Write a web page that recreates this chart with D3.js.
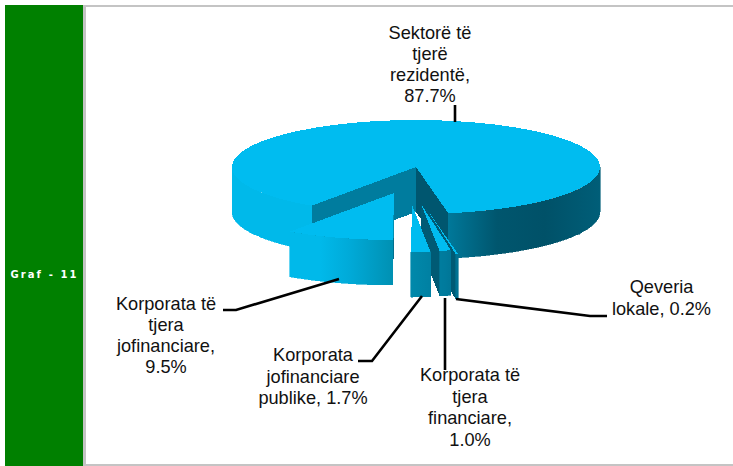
<!DOCTYPE html>
<html>
<head>
<meta charset="utf-8">
<script src="https://cdn.jsdelivr.net/npm/d3@7/dist/d3.min.js"></script>
<style>
html,body{margin:0;padding:0;background:#fff;overflow:hidden}
svg{display:block}
text{font-family:"Liberation Sans",Arial,sans-serif;font-size:18.2px;fill:#111}
</style>
</head>
<body>
<svg id="c" width="733" height="466"></svg>
<script>
const categories = ["Sektorë të tjerë rezidentë","Qeveria lokale","Korporata të tjera financiare","Korporata jofinanciare publike","Korporata të tjera jofinanciare"];
const shares = [87.7,0.2,1.0,1.7,9.5];
const labelLines = [
  ["Sektorë të","tjerë","rezidentë,","87.7%"],
  ["Qeveria","lokale, 0.2%"],
  ["Korporata të","tjera","financiare,","1.0%"],
  ["Korporata","jofinanciare","publike, 1.7%"],
  ["Korporata të","tjera","jofinanciare,","9.5%"]
];
const panelTitle = "Graf - 11";

// layout
const W=733,H=466,cx=416,cy=167,rx=184,ry=47,depth=45;
const offsets=[[0,0],[10,41],[5,37],[-4,38],[-22,26]];
const labelPos=[[430,32.5,21.2],[661.5,287,22],[470,375,21.4],[313,355,21.5],[166,304,21]];
const leaders=[
  [[455,105],[455,122]],
  [[456,299],[590,316],[607,316]],
  [[445,298],[445,370]],
  [[422,296],[372,361],[358,361]],
  [[339,279],[236,310],[223,310]]
];

const svg=d3.select("#c");
const defs=svg.append("defs");
const grad=defs.append("linearGradient").attr("id","wall").attr("gradientUnits","userSpaceOnUse")
  .attr("x1",cx-rx).attr("x2",cx+rx).attr("y1",0).attr("y2",0);
[[0,"#00b9ea"],[0.24,"#00b9ea"],[0.32,"#00aad8"],[0.44,"#0090b2"],[0.58,"#007a9c"],[0.72,"#00566e"],[0.85,"#005168"],[1,"#005e78"]]
  .forEach(s=>grad.append("stop").attr("offset",s[0]).attr("stop-color",s[1]));

// frame
svg.append("rect").attr("x",5).attr("y",5).attr("width",78).attr("height",461).attr("fill","#008000");
svg.append("rect").attr("x",83).attr("y",5).attr("width",3).attr("height",461).attr("fill","#c4c4c4");
svg.append("rect").attr("x",83).attr("y",5).attr("width",650).attr("height",2).attr("fill","#c4c4c4");
svg.append("rect").attr("x",83).attr("y",464).attr("width",650).attr("height",2).attr("fill","#c4c4c4");
svg.append("text").attr("x",44.5).attr("y",278).attr("text-anchor","middle")
  .style("font-family","'DejaVu Sans',Verdana,sans-serif").style("font-size","10px").style("font-weight","bold")
  .style("letter-spacing","2.1px").style("fill","#fff").text(panelTitle);

// pie
const deg=Math.PI/180;
const pie=d3.pie().sort(null).value(d=>d).startAngle(-145.5*deg).endAngle(214.5*deg);
const arcs=pie(shares);
const arcGen=d3.arc().innerRadius(0).outerRadius(rx);
const px=(a,o)=>cx+o[0]+rx*Math.sin(a);
const py=(a,o)=>cy+o[1]-ry*Math.cos(a);
const area=d3.area().x(d=>d.x).y0(d=>d.y).y1(d=>d.y+depth);

function outerWall(g,a0,a1,o){
  const lo=Math.max(a0,Math.PI/2),hi=Math.min(a1,1.5*Math.PI);
  if(hi<=lo)return;
  const pts=d3.range(0,61).map(i=>{const a=lo+(hi-lo)*i/60;return{x:px(a,o),y:py(a,o)}});
  g.append("path").attr("d",area(pts)).attr("fill","url(#wall)").attr("stroke","url(#wall)").attr("stroke-width",0.6);
}
function radialWall(g,a,o,fill){
  const pts=[{x:cx+o[0],y:cy+o[1]},{x:px(a,o),y:py(a,o)}];
  g.append("path").attr("d",area(pts)).attr("fill",fill);
}
const pieG=svg.append("g").attr("shape-rendering","crispEdges");
// paint back to front: large slice, then right-most small slice to the left
[0,1,2,3,4].forEach(i=>{
  const d=arcs[i],o=offsets[i],g=pieG.append("g");
  let a0=d.startAngle,a1=d.endAngle;
  if(i===0){
    radialWall(g,a0+2*Math.PI,o,"#007c9e");
    radialWall(g,a1,o,"#00566f");
    outerWall(g,a0+2*Math.PI,1.5*Math.PI,o);
    outerWall(g,Math.PI/2,a1,o);
  }else{
    radialWall(g,a0,o,"#00708f");
    radialWall(g,a1,o,i===4?"#0090b4":"#005a74");
    outerWall(g,a0,a1,o);
  }
  g.append("path").attr("d",arcGen(d))
    .attr("transform",`translate(${cx+o[0]},${cy+o[1]}) scale(1,${ry/rx})`)
    .attr("fill","#00bcf0");
});

// leader lines
const line=d3.line();
svg.append("g").selectAll("path").data(leaders).join("path")
  .attr("d",d=>line(d)).attr("fill","none").attr("stroke","#000").attr("stroke-width",2.6);

// labels
const lab=svg.append("g").selectAll("text").data(labelLines).join("text")
  .attr("text-anchor","middle");
lab.each(function(lines,i){
  const p=labelPos[i];
  d3.select(this).selectAll("tspan").data(lines).join("tspan")
    .attr("x",p[0]).attr("y",(l,j)=>p[1]+j*p[2]).attr("dy","0.35em").text(l=>l);
});
</script>
</body>
</html>
